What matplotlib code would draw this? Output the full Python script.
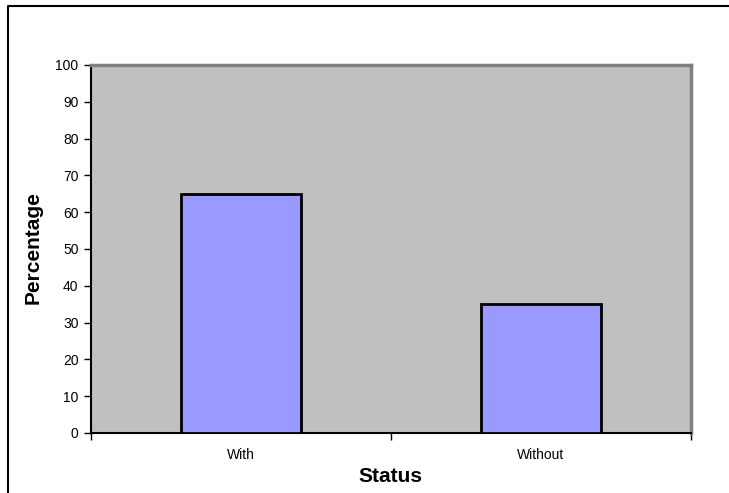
import matplotlib
matplotlib.use("Agg")
import matplotlib.pyplot as plt
from matplotlib.lines import Line2D

categories = ["With", "Without"]
percentages = [65, 35]
y_ticks = [0, 10, 20, 30, 40, 50, 60, 70, 80, 90, 100]

plt.rcParams["font.family"] = ["Liberation Sans", "DejaVu Sans"]

W, H = 729, 493
fig = plt.figure(figsize=(W / 100, H / 100), dpi=100)
ax = fig.add_axes([91 / W, 60 / H, 600 / W, 368 / H])
ax.set_facecolor("#C0C0C0")

x = list(range(len(categories)))
ax.bar(x, percentages, width=0.4, color="#9999FF", edgecolor="black", linewidth=2, zorder=3)

ax.set_xlim(-0.5, len(categories) - 0.5)
ax.set_ylim(0, 100)
ax.set_yticks(y_ticks)
ax.set_yticklabels([str(v) for v in y_ticks], fontsize=10)

# category labels centred under bars, tick marks on category boundaries
ax.set_xticks(x)
ax.set_xticklabels(categories, fontsize=10)
ax.tick_params(axis="x", length=0, pad=11)
ax.set_xticks([i - 0.5 for i in range(len(categories) + 1)], minor=True)
ax.tick_params(axis="x", which="minor", length=5, width=1, color="black", direction="out")
ax.tick_params(axis="y", length=5, width=1, direction="out", pad=4)

for side in ("left", "bottom"):
    ax.spines[side].set_color("black")
    ax.spines[side].set_linewidth(1.5)
for side in ("top", "right"):
    ax.spines[side].set_color("#808080")
    ax.spines[side].set_linewidth(2.5)

fig.text(390 / W, 1 - 476 / H, "Status", fontsize=15, fontweight="bold",
         ha="center", va="center")
fig.text(33.5 / W, 1 - 247.5 / H, "Percentage", fontsize=15, fontweight="bold",
         ha="center", va="center", rotation=90)

# chart-area border on the left and top
fx = 7.5 / W
fy = 1 - 5.5 / H
fig.add_artist(Line2D([fx, fx, 1], [0, fy, fy], transform=fig.transFigure,
                      color="black", linewidth=1.5))

fig.savefig("out.png", dpi=100)
